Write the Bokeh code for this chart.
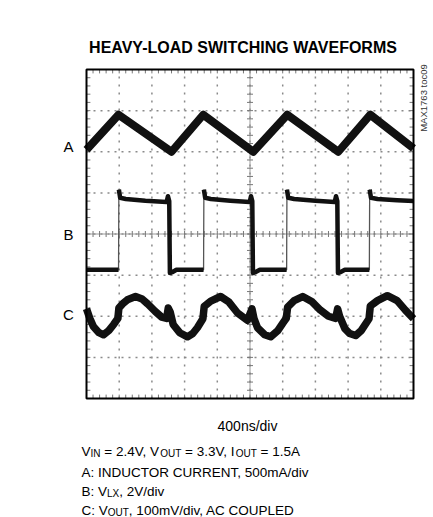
import numpy as np
from bokeh.plotting import figure
from bokeh.models import Label
from bokeh.embed import file_html
from bokeh.resources import INLINE

# ---------------- data (scope divisions: x 0..10, y -4..4) ----------------
TITLE = "HEAVY-LOAD SWITCHING WAVEFORMS"
TRACE_NAMES = ["A", "B", "C"]
SIDE_NOTE = "MAX1763 toc09"
X_DIVS = list(range(0, 11))
Y_DIVS = list(range(-4, 5))

# A: inductor current (triangle)
A_x = [0.00, 0.98, 2.60, 3.57, 5.10, 6.14, 7.70, 8.68, 10.00]
A_y = [2.05, 2.90, 2.00, 2.90, 2.00, 2.90, 2.00, 2.90, 2.08]

# B: LX node voltage (square)
B_x = [0.00, 0.97,
       0.98, 0.99, 1.03, 1.20, 1.80, 2.45, 2.49, 2.53, 2.55, 2.62, 2.75, 3.56,
       3.58, 3.59, 3.63, 3.80, 4.40, 4.99, 5.03, 5.07, 5.09, 5.16, 5.30, 6.10,
       6.12, 6.13, 6.17, 6.35, 7.00, 7.59, 7.63, 7.67, 7.69, 7.76, 7.90, 8.63,
       8.65, 8.66, 8.70, 8.90, 9.50, 10.00]
B_y = [-0.87, -0.87,
       -0.87, 1.08, 0.88, 0.85, 0.81, 0.78, 0.92, 0.80, -0.95, -0.93, -0.87, -0.87,
       -0.87, 1.08, 0.88, 0.85, 0.81, 0.78, 0.92, 0.80, -0.95, -0.93, -0.87, -0.87,
       -0.87, 1.08, 0.88, 0.85, 0.81, 0.78, 0.92, 0.80, -0.95, -0.93, -0.87, -0.87,
       -0.87, 1.08, 0.88, 0.85, 0.82, 0.80]

# C: output voltage ripple (AC coupled)
C_x = [0.00, 0.10, 0.21, 0.38, 0.52, 0.68, 0.83, 0.96, 0.99, 1.10, 1.25, 1.50,
       1.70, 1.87, 2.10, 2.30, 2.45, 2.50, 2.56, 2.65, 2.85, 3.09, 3.25, 3.39,
       3.56, 3.60, 3.80, 4.10, 4.35, 4.62, 4.92, 5.06, 5.12, 5.23, 5.45, 5.63,
       5.85, 6.02, 6.11, 6.15, 6.35, 6.61, 6.90, 7.15, 7.40, 7.62, 7.68, 7.74,
       7.90, 8.05, 8.23, 8.40, 8.59, 8.64, 8.68, 8.90, 9.20, 9.50, 9.75, 10.00]
C_y = [-1.82, -2.05, -2.25, -2.40, -2.45, -2.35, -2.20, -2.05, -1.80, -1.70, -1.60, -1.52,
       -1.58, -1.70, -1.88, -2.02, -2.05, -1.80, -1.90, -2.20, -2.40, -2.50, -2.42, -2.28,
       -2.06, -1.76, -1.63, -1.52, -1.65, -1.92, -2.10, -1.82, -2.05, -2.28, -2.45, -2.50,
       -2.35, -2.15, -2.05, -1.78, -1.62, -1.52, -1.65, -1.85, -2.00, -2.05, -1.82, -2.00,
       -2.30, -2.42, -2.47, -2.35, -2.12, -2.06, -1.75, -1.62, -1.50, -1.62, -1.85, -2.06]

TIMEBASE = "400ns/div"
NB = "\u00a0"
NOTES = [
    [("V", False), ("IN", True), (NB + "= 2.4V, V", False), ("OUT", True),
     (NB + "= 3.3V, I", False), ("OUT", True), (NB + "= 1.5A", False)],
    [("A: INDUCTOR CURRENT, 500mA/div", False)],
    [("B: V", False), ("LX", True), (", 2V/div", False)],
    [("C: V", False), ("OUT", True), (", 100mV/div, AC COUPLED", False)],
]

# ---------------- layout (pixels) ----------------
FONT = "Liberation Sans"
W, H = 433, 517
PX_L, PX_R, PX_T, PX_B = 86, 413, 69, 398
SX = (PX_R - PX_L) / 10.0
SY = (PX_B - PX_T) / 8.0


def dx(px):
    return (px - PX_L) / SX


def dy(py):
    return 4 - (py - PX_T) / SY


p = figure(width=W, height=H, x_range=(dx(0), dx(W)), y_range=(dy(H), dy(0)),
           output_backend="svg", toolbar_location=None, min_border=0)
p.xaxis.visible = False
p.yaxis.visible = False
p.grid.visible = False
p.outline_line_color = None
p.background_fill_color = "white"
p.border_fill_color = "white"

GRID_C = "#8a8a8a"
xin = X_DIVS[1:-1]
yin = Y_DIVS[1:-1]
p.segment(x0=xin, y0=[-4] * len(xin), x1=xin, y1=[4] * len(xin),
          line_color=GRID_C, line_width=1.5, line_dash="2 6")
p.segment(x0=[0] * len(yin), y0=yin, x1=[10] * len(yin), y1=yin,
          line_color=GRID_C, line_width=1.5, line_dash="2 5")

# centre cross with minor ticks
p.segment(x0=[0, 5], y0=[0, -4], x1=[10, 5], y1=[0, 4], line_color="#9a9a9a", line_width=1)
mx = np.arange(0, 10.001, 0.2)
my = np.arange(-4, 4.001, 0.2)
tx = 3.0 / SX
ty = 3.0 / SY
p.segment(x0=mx, y0=-ty, x1=mx, y1=ty, line_color="#777777", line_width=1)
p.segment(x0=5 - tx, y0=my, x1=5 + tx, y1=my, line_color="#777777", line_width=1)
p.segment(x0=mx, y0=-4, x1=mx, y1=-4 + 1.3 * ty, line_color="#777777", line_width=1)
p.segment(x0=mx, y0=4, x1=mx, y1=4 - 1.3 * ty, line_color="#777777", line_width=1)
p.segment(x0=0, y0=my, x1=1.3 * tx, y1=my, line_color="#777777", line_width=1)
p.segment(x0=10, y0=my, x1=10 - 1.3 * tx, y1=my, line_color="#777777", line_width=1)

# traces
TRACE_COLOR = "#111111"
p.line(A_x, A_y, line_color=TRACE_COLOR, line_width=8, line_join="round")
p.line(B_x, B_y, line_color="#555555", line_width=1.3)
bx, by, cur_x, cur_y = [], [], [B_x[0]], [B_y[0]]
for i in range(1, len(B_x)):
    if B_y[i] - B_y[i - 1] > 1.0:
        bx.append(cur_x); by.append(cur_y)
        cur_x, cur_y = [], []
    cur_x.append(B_x[i]); cur_y.append(B_y[i])
bx.append(cur_x); by.append(cur_y)
p.multi_line(bx, by, line_color=TRACE_COLOR, line_width=4.5, line_join="round")
p.line(C_x, C_y, line_color=TRACE_COLOR, line_width=7.5, line_join="round")

# frame border
p.quad(left=[X_DIVS[0]], right=[X_DIVS[-1]], bottom=[Y_DIVS[0]], top=[Y_DIVS[-1]],
       fill_color=None, line_color="black", line_width=2)

# ---------------- texts ----------------
WID = {' ': 278, NB: 278, ',': 278, '-': 333, '.': 278, '/': 278, ':': 278, '=': 584,
       'A': 667, 'B': 667, 'C': 722, 'D': 722, 'E': 667, 'F': 611, 'G': 778,
       'H': 722, 'I': 278, 'L': 556, 'M': 833, 'N': 722, 'O': 778, 'P': 667,
       'R': 722, 'S': 667, 'T': 611, 'U': 722, 'V': 667, 'W': 944, 'X': 667,
       'Y': 667, 'a': 556, 'c': 500, 'd': 556, 'i': 222, 'm': 833, 'n': 556,
       's': 500, 'v': 500, 'o': 556, 't': 278}


def tw(s, size):
    return sum(WID.get(ch, 556) for ch in s) / 1000.0 * size


p.add_layout(Label(x=dx(242.5), y=dy(46.5), text=TITLE, text_font=FONT,
                   text_font_size="16px", text_font_style="bold",
                   text_align="center", text_baseline="alphabetic",
                   text_color="black"))

for name, py in zip(TRACE_NAMES, [146, 233.5, 313.5]):
    p.add_layout(Label(x=dx(68), y=dy(py), text=name, text_font=FONT,
                       text_font_size="15px", text_align="center",
                       text_baseline="middle", text_color="black"))

p.add_layout(Label(x=dx(423), y=dy(97.5), text=SIDE_NOTE, text_font=FONT,
                   text_font_size="9.5px", angle=np.pi / 2, text_align="center",
                   text_baseline="middle", text_color="#333333"))

p.add_layout(Label(x=dx(247), y=dy(425), text=TIMEBASE, text_font=FONT,
                   text_font_size="14px", text_align="center",
                   text_baseline="alphabetic", text_color="black"))

MAIN, SUB, DROP = 13.5, 10, 2
for parts, py in zip(NOTES, [451, 471.5, 490.5, 509.5]):
    off = 0.0
    for txt, sub in parts:
        fs = SUB if sub else MAIN
        p.add_layout(Label(x=dx(81), y=dy(py), x_offset=off,
                           y_offset=-DROP if sub else 0, text=txt,
                           text_font=FONT, text_font_size=f"{fs}px",
                           text_align="left", text_baseline="alphabetic",
                           text_color="black"))
        off += tw(txt, fs)

open("out.html", "w").write(file_html(p, INLINE))
